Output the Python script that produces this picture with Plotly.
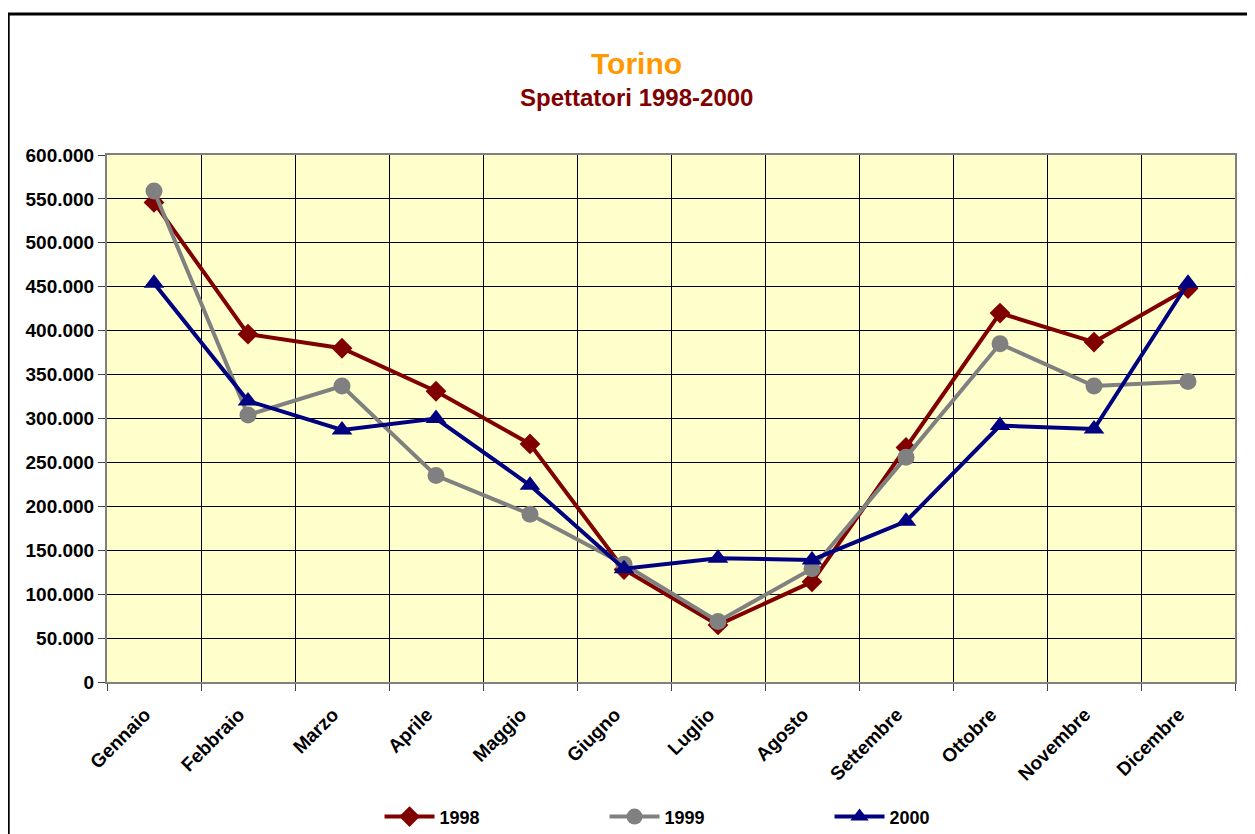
import plotly.graph_objects as go

mesi = ["Gennaio", "Febbraio", "Marzo", "Aprile", "Maggio", "Giugno",
        "Luglio", "Agosto", "Settembre", "Ottobre", "Novembre", "Dicembre"]

spettatori_1998 = [546000, 396000, 380000, 331000, 271000, 128000,
                   65000, 114000, 267000, 420000, 387000, 448000]
spettatori_1999 = [559000, 304000, 337000, 235000, 191000, 134000,
                   69000, 129000, 256000, 385000, 337000, 342000]
spettatori_2000 = [454000, 320000, 287000, 300000, 224000, 129000,
                   141000, 139000, 183000, 292000, 288000, 454000]

FONT = "Liberation Sans, Arial, sans-serif"

fig = go.Figure()

# one line per year
fig.add_trace(go.Scatter(
    x=mesi, y=spettatori_1998, name="1998", mode="lines+markers",
    line=dict(color="#800000", width=4),
    marker=dict(symbol="diamond", size=16, color="#800000")
))
fig.add_trace(go.Scatter(
    x=mesi, y=spettatori_1999, name="1999", mode="lines+markers",
    line=dict(color="#808080", width=4),
    marker=dict(symbol="circle", size=17, color="#808080")
))
fig.add_trace(go.Scatter(
    x=mesi, y=spettatori_2000, name="2000", mode="lines+markers",
    line=dict(color="#000080", width=4),
    marker=dict(symbol="triangle-up", size=18, color="#000080")
))

# outer chart frame
fig.add_shape(type="rect", xref="paper", yref="paper",
              x0=-0.0876, x1=1.05, y0=-0.4, y1=1.2676,
              line=dict(color="black", width=3), layer="below")

fig.add_annotation(text="Torino", xref="paper", yref="paper",
                   x=0.469, y=1.1727, yanchor="middle", showarrow=False,
                   font=dict(size=30, color="#FF9900", family=FONT, weight="bold"))
fig.add_annotation(text="Spettatori 1998-2000", xref="paper", yref="paper",
                   x=0.469, y=1.110, yanchor="middle", showarrow=False,
                   font=dict(size=24, color="#800000", family=FONT, weight="bold"))

fig.update_layout(
    width=1239, height=845,
    margin=dict(l=99, r=10, t=147, b=171),
    paper_bgcolor="white",
    plot_bgcolor="#FFFFCC",
    separators=",.",
    font=dict(family=FONT, size=18, color="black"),
    showlegend=True,
    legend=dict(orientation="h", x=0.2416, xanchor="left", y=-0.256, yanchor="middle",
                entrywidth=160, itemwidth=50,
                font=dict(size=18, color="black", weight="bold")),
)

fig.update_xaxes(
    type="category", tickson="boundaries", range=[-0.5, 11.5],
    showgrid=True, gridcolor="black", gridwidth=1,
    showline=True, linecolor="#808080", linewidth=2, mirror=True,
    ticks="outside", ticklen=7, tickcolor="#404040",
    tickangle=-45, tickfont=dict(size=19, weight="bold"),
    ticklabelstandoff=12, ticklabelshift=-9,
)
fig.update_yaxes(
    range=[0, 600000], dtick=50000, tickformat=",d",
    showgrid=True, gridcolor="black", gridwidth=1,
    showline=True, linecolor="#808080", linewidth=2, mirror=True,
    ticks="outside", ticklen=7, tickcolor="#404040",
    tickfont=dict(size=19, weight="bold"), zeroline=False,
)

fig.write_html("out.html")
